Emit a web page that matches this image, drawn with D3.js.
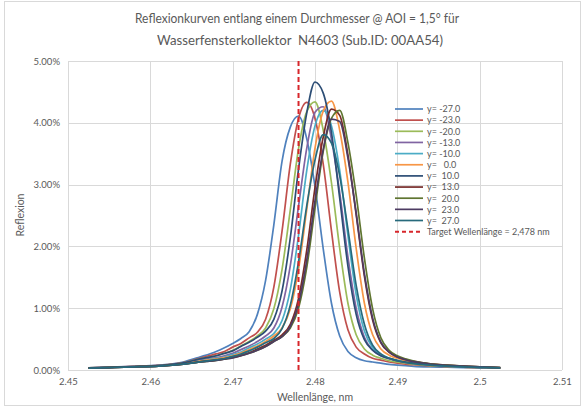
<!DOCTYPE html>
<html>
<head>
<meta charset="utf-8">
<script src="https://cdn.jsdelivr.net/npm/d3@7"></script>
<style>
  body { margin: 0; background: #fff; }
  svg text { font-family: Lato, "Open Sans", "Liberation Sans", sans-serif; fill: #595959; }
</style>
</head>
<body>
<svg id="chart" width="585" height="408"></svg>
<script>
// ---------- DATA ----------
const titleLines = ["Reflexionkurven entlang einem Durchmesser @ AOI = 1,5° für",
                    "Wasserfensterkollektor  N4603 (Sub.ID: 00AA54)"];
const xLabel = "Wellenlänge, nm";
const yLabel = "Reflexion";
const xTicks = [2.45, 2.46, 2.47, 2.48, 2.49, 2.5, 2.51];
const xTickLabels = ["2.45", "2.46", "2.47", "2.48", "2.49", "2.5", "2.51"];
const yTicks = [0, 1, 2, 3, 4, 5];
const yTickLabels = ["0.00%", "1.00%", "2.00%", "3.00%", "4.00%", "5.00%"];
const targetWavelength = 2.478;
const targetLabel = "Target Wellenlänge = 2,478 nm";

// wavelengths (nm)
const wavelengths = [2.4525, 2.455, 2.458, 2.461, 2.464, 2.466, 2.468, 2.469, 2.470, 2.471,
  2.472, 2.473, 2.474, 2.475, 2.476, 2.477, 2.478, 2.479, 2.480, 2.481,
  2.482, 2.483, 2.484, 2.485, 2.486, 2.487, 2.488, 2.489, 2.490, 2.491,
  2.492, 2.494, 2.496, 2.498, 2.500, 2.5025];

const seriesNames = ["y= -27.0", "y= -23.0", "y= -20.0", "y= -13.0", "y= -10.0", "y=   0.0",
                     "y=  10.0", "y=  13.0", "y=  20.0", "y=  23.0", "y=  27.0"];
const seriesColors = ["#4F81BD", "#C0504D", "#9BBB59", "#8064A2", "#4BACC6", "#F79646",
                      "#2C4D75", "#772C2A", "#5F7530", "#4D3B62", "#276A7C"];

// reflexion values in %
const yM27 = [0.035, 0.045, 0.06, 0.08, 0.13, 0.21, 0.30, 0.36, 0.43, 0.51,
  0.62, 0.90, 1.45, 2.35, 3.38, 3.93, 4.11, 3.74, 2.97, 1.96,
  1.08, 0.55, 0.30, 0.20, 0.15, 0.13, 0.11, 0.09, 0.08, 0.07,
  0.06, 0.05, 0.045, 0.04, 0.035, 0.03];
const yM23 = [0.034, 0.044, 0.058, 0.075, 0.12, 0.19, 0.26, 0.30, 0.37, 0.43,
  0.52, 0.61, 0.82, 1.34, 2.25, 3.33, 4.07, 4.33, 4.07, 3.33,
  2.25, 1.26, 0.65, 0.37, 0.26, 0.19, 0.16, 0.13, 0.11, 0.095,
  0.085, 0.065, 0.055, 0.045, 0.036, 0.03];
const yM20 = [0.033, 0.043, 0.056, 0.072, 0.115, 0.18, 0.23, 0.27, 0.32, 0.39,
  0.46, 0.55, 0.68, 0.99, 1.63, 2.59, 3.58, 4.18, 4.34, 3.88,
  3.03, 1.97, 1.08, 0.57, 0.34, 0.24, 0.19, 0.15, 0.13, 0.11,
  0.095, 0.072, 0.06, 0.048, 0.038, 0.03];
const yM13 = [0.032, 0.042, 0.054, 0.07, 0.11, 0.16, 0.20, 0.23, 0.27, 0.33,
  0.39, 0.46, 0.55, 0.68, 1.02, 1.69, 2.65, 3.59, 4.17, 4.26,
  3.73, 2.87, 1.83, 1.00, 0.53, 0.32, 0.23, 0.18, 0.15, 0.12,
  0.105, 0.08, 0.062, 0.05, 0.04, 0.032];
const yM10 = [0.031, 0.041, 0.053, 0.068, 0.105, 0.15, 0.19, 0.21, 0.25, 0.29,
  0.36, 0.42, 0.50, 0.59, 0.80, 1.30, 2.18, 3.23, 3.95, 4.20,
  3.95, 3.23, 2.18, 1.22, 0.63, 0.36, 0.25, 0.19, 0.16, 0.13,
  0.11, 0.083, 0.063, 0.053, 0.043, 0.033];
const y0 = [0.031, 0.04, 0.052, 0.067, 0.10, 0.145, 0.18, 0.20, 0.23, 0.275,
  0.33, 0.39, 0.46, 0.55, 0.68, 0.99, 1.63, 2.60, 3.59, 4.19,
  4.35, 3.88, 3.04, 1.97, 1.08, 0.57, 0.34, 0.24, 0.19, 0.15,
  0.13, 0.094, 0.073, 0.058, 0.045, 0.035];
const yP10 = [0.033, 0.043, 0.056, 0.072, 0.115, 0.18, 0.23, 0.27, 0.31, 0.38,
  0.45, 0.53, 0.63, 0.82, 1.28, 2.14, 3.25, 4.16, 4.66, 4.48,
  3.84, 2.78, 1.68, 0.90, 0.49, 0.32, 0.23, 0.19, 0.15, 0.13,
  0.11, 0.085, 0.068, 0.054, 0.043, 0.033];
const yP13 = [0.03, 0.039, 0.05, 0.064, 0.095, 0.13, 0.16, 0.18, 0.21, 0.24,
  0.28, 0.34, 0.40, 0.48, 0.57, 0.74, 1.16, 1.94, 2.95, 3.77,
  4.22, 4.12, 3.48, 2.52, 1.52, 0.81, 0.44, 0.29, 0.21, 0.17,
  0.14, 0.10, 0.08, 0.063, 0.05, 0.037];
const yP20 = [0.03, 0.039, 0.05, 0.064, 0.095, 0.13, 0.156, 0.177, 0.20, 0.23,
  0.27, 0.32, 0.38, 0.46, 0.54, 0.68, 1.00, 1.66, 2.62, 3.54,
  4.07, 4.20, 3.68, 2.83, 1.81, 0.99, 0.52, 0.32, 0.23, 0.18,
  0.145, 0.10, 0.08, 0.064, 0.05, 0.038];
const yP23 = [0.03, 0.039, 0.05, 0.064, 0.095, 0.13, 0.155, 0.176, 0.196, 0.23,
  0.27, 0.32, 0.38, 0.46, 0.54, 0.70, 1.07, 1.78, 2.74, 3.57,
  4.06, 4.02, 3.43, 2.54, 1.56, 0.84, 0.45, 0.29, 0.21, 0.166,
  0.135, 0.097, 0.077, 0.062, 0.049, 0.037];
const yP27 = [0.03, 0.039, 0.05, 0.064, 0.095, 0.13, 0.167, 0.186, 0.22, 0.26,
  0.31, 0.37, 0.44, 0.51, 0.67, 1.05, 1.75, 2.66, 3.40, 3.81,
  3.67, 3.14, 2.28, 1.37, 0.74, 0.40, 0.26, 0.19, 0.15, 0.124,
  0.104, 0.08, 0.064, 0.052, 0.042, 0.033];

const seriesValues = [yM27, yM23, yM20, yM13, yM10, y0, yP10, yP13, yP20, yP23, yP27];

// ---------- DRAW ----------
const svg = d3.select("#chart");
const plotLeft = 68, plotRight = 562, plotTop = 61, plotBottom = 370;

const x = d3.scaleLinear().domain([2.45, 2.51]).range([plotLeft, plotRight]);
const y = d3.scaleLinear().domain([0, 5]).range([plotBottom, plotTop]);

// outer border
svg.append("rect").attr("x", 4.5).attr("y", 1.5).attr("width", 576).attr("height", 404)
  .attr("fill", "#fff").attr("stroke", "#D9D9D9").attr("stroke-width", 1);

// gridlines
const grid = svg.append("g");
grid.selectAll("line.h").data(yTicks).join("line")
  .attr("x1", plotLeft).attr("x2", plotRight)
  .attr("y1", d => Math.round(y(d)) + 0.5).attr("y2", d => Math.round(y(d)) + 0.5)
  .attr("stroke", "#D9D9D9").attr("stroke-width", 1);
grid.selectAll("line.v").data(xTicks).join("line")
  .attr("y1", plotTop).attr("y2", plotBottom)
  .attr("x1", d => Math.round(x(d)) + 0.5).attr("x2", d => Math.round(x(d)) + 0.5)
  .attr("stroke", "#D9D9D9").attr("stroke-width", 1);

// axes (labels only)
const yAxis = d3.axisLeft(y).tickValues(yTicks).tickSize(0).tickPadding(8)
  .tickFormat((d, i) => yTickLabels[i]);
const gy = svg.append("g").attr("transform", `translate(${plotLeft},0)`).call(yAxis);
gy.select(".domain").remove();
gy.selectAll("text").style("font-size", "9.5px").style("fill", "#595959")
  .style("font-family", "Lato, 'Open Sans', sans-serif");

const xAxis = d3.axisBottom(x).tickValues(xTicks).tickSize(0).tickPadding(8)
  .tickFormat((d, i) => xTickLabels[i]);
const gx = svg.append("g").attr("transform", `translate(0,${plotBottom})`).call(xAxis);
gx.select(".domain").remove();
gx.selectAll("text").style("font-size", "9.5px").style("fill", "#595959")
  .style("font-family", "Lato, 'Open Sans', sans-serif");

// series lines
const line = d3.line()
  .x((d, i) => x(wavelengths[i]))
  .y(d => y(d))
  .curve(d3.curveMonotoneX);

svg.append("g").selectAll("path").data(seriesValues).join("path")
  .attr("d", d => line(d))
  .attr("fill", "none")
  .attr("stroke", (d, i) => seriesColors[i])
  .attr("stroke-width", 1.7)
  .attr("stroke-linejoin", "round");

// target line
svg.append("line")
  .attr("x1", x(targetWavelength)).attr("x2", x(targetWavelength))
  .attr("y1", y(5)).attr("y2", y(0))
  .attr("stroke", "#D7262B").attr("stroke-width", 2).attr("stroke-dasharray", "5,3");

// titles
svg.append("text").attr("x", 297).attr("y", 23).attr("text-anchor", "middle")
  .attr("textLength", 324).attr("lengthAdjust", "spacingAndGlyphs")
  .style("font-size", "13.5px").text(titleLines[0]);
svg.append("text").attr("x", 300).attr("y", 45).attr("text-anchor", "middle")
  .attr("textLength", 286).attr("lengthAdjust", "spacingAndGlyphs")
  .style("font-size", "13.5px").style("white-space", "pre").text(titleLines[1]);

svg.append("text").attr("x", 315).attr("y", 401).attr("text-anchor", "middle")
  .style("font-size", "10.5px").text(xLabel);
svg.append("text").attr("transform", "translate(24,215) rotate(-90)").attr("text-anchor", "middle")
  .style("font-size", "10.5px").text(yLabel);

// legend
const legendItems = seriesNames.map((n, i) => ({name: n, color: seriesColors[i], dash: null}))
  .concat([{name: targetLabel, color: "#D7262B", dash: "4,3"}]);
const lg = svg.append("g").attr("transform", "translate(395,109)");
const rows = lg.selectAll("g").data(legendItems).join("g")
  .attr("transform", (d, i) => `translate(0,${i * 11.15})`);
rows.append("line").attr("x1", 0).attr("x2", 28).attr("y1", 0).attr("y2", 0)
  .attr("stroke", d => d.color).attr("stroke-width", d => d.dash ? 2 : 1.7)
  .attr("stroke-dasharray", d => d.dash);
rows.append("text").attr("x", 32).attr("y", 3.3)
  .style("font-size", "9px").style("white-space", "pre").text(d => d.name);
</script>
</body>
</html>
